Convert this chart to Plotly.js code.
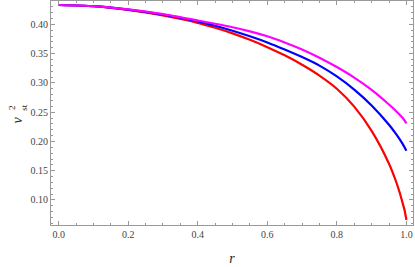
<!DOCTYPE html>
<html>
<head>
<meta charset="utf-8">
<script src="https://cdn.plot.ly/plotly-3.0.1.min.js"></script>
<style>html,body{margin:0;padding:0;background:#fff;}#chart{width:415px;height:267px;}</style>
</head>
<body>
<div id="chart"></div>
<script>
var r = [0, 0.1, 0.2, 0.3, 0.4, 0.45, 0.5, 0.55, 0.6, 0.65, 0.7, 0.75, 0.8, 0.85, 0.9, 0.95, 0.97, 0.98, 0.99, 0.995, 1.0];
var vRed     = [0.433, 0.431, 0.4245, 0.415, 0.4025, 0.394, 0.3845, 0.3735, 0.361, 0.347, 0.331, 0.3125, 0.290, 0.2595, 0.218, 0.162, 0.132, 0.114, 0.093, 0.082, 0.066];
var vBlue    = [0.433, 0.431, 0.425, 0.4165, 0.405, 0.3975, 0.389, 0.3795, 0.369, 0.357, 0.344, 0.3295, 0.311, 0.2885, 0.2615, 0.2285, 0.213, 0.2045, 0.195, 0.1895, 0.184];
var vMagenta = [0.433, 0.431, 0.4255, 0.4175, 0.4065, 0.401, 0.395, 0.388, 0.3795, 0.369, 0.357, 0.343, 0.327, 0.309, 0.288, 0.263, 0.252, 0.246, 0.2395, 0.2355, 0.231];
var xTicks = [0.0, 0.2, 0.4, 0.6, 0.8, 1.0];
var xTickText = ["0.0", "0.2", "0.4", "0.6", "0.8", "1.0"];
var yTicks = [0.10, 0.15, 0.20, 0.25, 0.30, 0.35, 0.40];
var yTickText = ["0.10", "0.15", "0.20", "0.25", "0.30", "0.35", "0.40"];

function tr(y, color) {
  return {x: r, y: y, type: 'scatter', mode: 'lines',
          line: {color: color, width: 2.2, shape: 'spline', smoothing: 0.7},
          hoverinfo: 'skip', showlegend: false};
}
var data = [tr(vRed, '#ff0000'), tr(vBlue, '#0000ff'), tr(vMagenta, '#ff00ff')];

var axisCommon = {
  showgrid: false, zeroline: false, showline: true, linecolor: '#999', linewidth: 1,
  mirror: 'allticks', ticks: 'inside', ticklen: 4, tickcolor: '#999', tickwidth: 1,
  tickfont: {family: 'Liberation Serif, Times New Roman, serif', size: 10, color: '#444'},
  tickmode: 'array'
};
var layout = {
  width: 415, height: 267,
  margin: {l: 51, r: 2, t: 1, b: 42},
  paper_bgcolor: '#fff', plot_bgcolor: '#fff',
  xaxis: Object.assign({}, axisCommon, {
    range: [-0.022, 1.019], tickvals: xTicks, ticktext: xTickText,
    minor: {dtick: 0.05, ticks: 'inside', ticklen: 2, tickcolor: '#999', showgrid: false},
    title: {text: '<i>r</i>', font: {family: 'Liberation Serif, Times New Roman, serif', size: 14, color: '#222'}, standoff: 14}
  }),
  yaxis: Object.assign({}, axisCommon, {
    range: [0.0573, 0.4398], tickvals: yTicks, ticktext: yTickText,
    minor: {dtick: 0.01, ticks: 'inside', ticklen: 2, tickcolor: '#999', showgrid: false}
  }),
  annotations: [
    {xref: 'paper', yref: 'paper', x: -0.092, y: 0.47, text: '<i>v</i>', showarrow: false,
     textangle: -90, xanchor: 'center', yanchor: 'middle',
     font: {family: 'Liberation Serif, Times New Roman, serif', size: 14, color: '#222'}},
    {xref: 'paper', yref: 'paper', x: -0.090, y: 0.525, text: '2<br>st', showarrow: false,
     textangle: -90, xanchor: 'center', yanchor: 'middle',
     font: {family: 'Liberation Serif, Times New Roman, serif', size: 9, color: '#222'}}
  ]
};
Plotly.newPlot('chart', data, layout, {staticPlot: true, displayModeBar: false});
</script>
</body>
</html>
